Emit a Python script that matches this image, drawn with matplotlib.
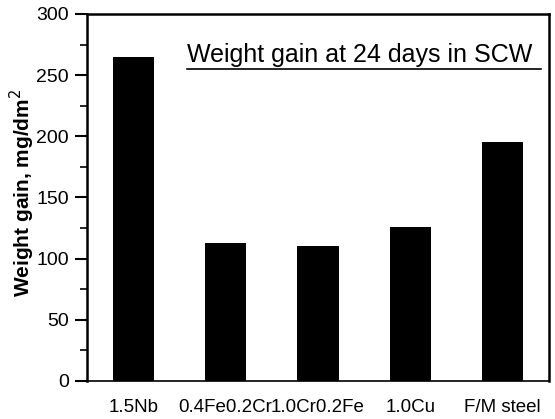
import matplotlib
matplotlib.use("Agg")
import matplotlib.pyplot as plt
from matplotlib.ticker import MultipleLocator
import numpy as np

plt.rcParams['font.family'] = ['Liberation Sans', 'DejaVu Sans']

alloys = ["1.5Nb", "0.4Fe0.2Cr", "1.0Cr0.2Fe", "1.0Cu", "F/M steel"]
weight_gain = [265, 113, 110, 126, 195]

fig = plt.figure(figsize=(5.55, 4.19), dpi=100)
ax = fig.add_axes([0.157, 0.0907, 0.832, 0.876])

x = np.arange(len(alloys))
ax.bar(x, weight_gain, width=0.45, color="black")

ax.set_xlim(-0.5, 4.5)
ax.set_ylim(0, 300)
ax.yaxis.set_major_locator(MultipleLocator(50))
ax.yaxis.set_minor_locator(MultipleLocator(25))
ax.set_xticks(x)
ax.set_xticklabels(alloys, fontsize=13.5)
ax.tick_params(axis="x", length=0, pad=13)
ax.tick_params(axis="y", which="major", direction="out", length=9, width=1.5,
               labelsize=14, pad=4)
ax.tick_params(axis="y", which="minor", direction="out", length=5, width=1.2)

for side in ["left", "top", "right"]:
    ax.spines[side].set_linewidth(1.8)
ax.spines["bottom"].set_linewidth(1.2)

ax.set_ylabel("Weight gain, mg/dm$^2$", fontsize=15, fontweight="bold")
ax.yaxis.set_label_coords(-0.108, 0.513)

ax.text(0.217, 0.889, "Weight gain at 24 days in SCW", transform=ax.transAxes,
        fontsize=18, ha="left", va="center")
ax.plot([0.217, 0.983], [0.851, 0.851], transform=ax.transAxes, color="black",
        linewidth=1.2, clip_on=False)

fig.savefig("out.png", dpi=100)
